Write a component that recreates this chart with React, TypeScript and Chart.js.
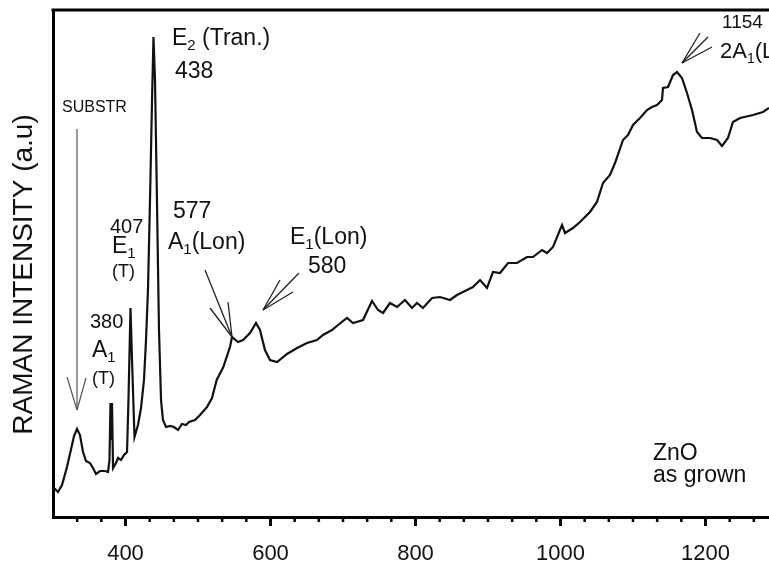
import { useEffect, useRef } from 'react';
import { Chart, registerables } from 'chart.js';

Chart.register(...registerables);

const FONT = '"Liberation Sans", Arial, Helvetica, sans-serif';

// Raman shift (cm-1)
const wavenumbers = [
  300.0, 306.9, 312.4, 319.3, 326.2, 329.0, 333.1, 337.2, 341.4, 345.5,
  351.0, 355.2, 359.3, 364.8, 371.7, 375.9, 377.9, 379.3, 380.4, 381.4,
  382.8, 386.9, 389.7, 393.8, 397.9, 402.1, 404.1, 406.9, 409.0, 412.4,
  417.2, 421.4, 425.5, 428.3, 431.0, 433.8, 436.6, 438.6, 440.7, 443.4,
  446.2, 449.0, 451.7, 455.9, 461.4, 466.9, 472.4, 477.9, 483.4, 487.6,
  495.9, 502.8, 512.4, 519.3, 525.8, 534.9, 544.1, 546.9, 555.2, 562.1,
  571.7, 580.0, 585.5, 592.4, 599.3, 609.0, 622.8, 636.6, 650.3, 664.1,
  672.4, 684.8, 693.1, 705.5, 713.8, 727.6, 740.0, 748.3, 755.2, 764.8,
  774.5, 785.5, 795.2, 802.1, 810.3, 822.8, 833.8, 847.6, 857.2, 871.0,
  879.3, 889.0, 898.6, 906.9, 916.6, 927.6, 940.0, 953.8, 962.1, 974.5,
  981.4, 989.7, 1002.1, 1006.2, 1017.2, 1026.9, 1040.7, 1050.3, 1058.6, 1068.3,
  1075.2, 1086.2, 1093.1, 1100.0, 1109.7, 1119.3, 1126.2, 1133.1, 1140.0, 1141.4,
  1148.3, 1155.2, 1160.7, 1167.6, 1174.5, 1181.4, 1188.3, 1195.2, 1206.2, 1215.9,
  1222.8, 1231.0, 1237.9, 1247.6, 1265.5, 1279.3, 1287.6,
];

// Raman intensity (a.u.)
const intensity = [
  30, 25, 32, 50, 72, 81, 88, 82, 65, 56,
  54, 49, 43, 46, 46, 45, 57, 114, 77, 114,
  49, 54, 59, 57, 62, 65, 117, 209, 157, 80,
  92, 109, 137, 177, 227, 317, 417, 480, 437, 317,
  187, 117, 97, 90, 91, 90, 87, 93, 92, 95,
  97, 102, 110, 119, 137, 150, 170, 180, 175, 177,
  184, 194, 187, 167, 157, 155, 163, 169, 174, 177,
  182, 187, 192, 199, 194, 197, 216, 207, 204, 214,
  210, 217, 209, 214, 209, 219, 220, 217, 222, 227,
  230, 237, 229, 245, 244, 254, 254, 260, 260, 267,
  264, 270, 292, 284, 289, 295, 305, 315, 334, 342,
  354, 377, 382, 392, 399, 407, 410, 412, 417, 429,
  430, 442, 445, 439, 424, 407, 385, 379, 379, 377,
  371, 379, 395, 399, 402, 405, 409,
];

const xMin = 300;
const xMax = 1287.6;
const yMin = 0;
const yMax = 507;
const majorTicks = [400, 600, 800, 1000, 1200];
const minorStep = 100 / 3;
const yTitle = 'RAMAN INTENSITY (a.u)';

// Annotation texts: anchor in data units (left, baseline); parts = [text, fontSize, dy]
type Part = [string, number, number];
const annotationTexts: { x: number; y: number; parts: Part[] }[] = [
  { x: 312.4, y: 405, parts: [['SUBSTR', 16, 0]] },
  { x: 464.1, y: 472, parts: [['E', 23, 0], ['2', 15, 5], [' (Tran.)', 23, 0]] },
  { x: 468.3, y: 439, parts: [['438', 23, 0]] },
  { x: 465.5, y: 299, parts: [['577', 23, 0]] },
  { x: 458.6, y: 268, parts: [['A', 23, 0], ['1', 15, 5], ['(Lon)', 23, 0]] },
  { x: 626.9, y: 273, parts: [['E', 23, 0], ['1', 15, 5], ['(Lon)', 23, 0]] },
  { x: 651.7, y: 244, parts: [['580', 23, 0]] },
  { x: 378.6, y: 284, parts: [['407', 20, 0]] },
  { x: 381.4, y: 264, parts: [['E', 23, 0], ['1', 15, 5]] },
  { x: 381.4, y: 240, parts: [['(T)', 18, 0]] },
  { x: 351.0, y: 189, parts: [['380', 20, 0]] },
  { x: 353.8, y: 160, parts: [['A', 23, 0], ['1', 15, 5]] },
  { x: 353.8, y: 133, parts: [['(T)', 18, 0]] },
  { x: 1222.8, y: 489, parts: [['1154', 19, 0]] },
  { x: 1220.0, y: 459, parts: [['2A', 22, 0], ['1', 14, 5], ['(LO)', 22, 0]] },
  { x: 1127.6, y: 57, parts: [['ZnO', 23, 0]] },
  { x: 1127.6, y: 35, parts: [['as grown', 23, 0]] },
];

// Arrows: tip, tail, and two head-line ends, in data units [x, y]
const arrows: { tip: number[]; tail: number[]; h1: number[]; h2: number[]; w: number; c: string }[] = [
  { tip: [333.1, 107], tail: [333.1, 388], h1: [319.3, 140], h2: [345.5, 139], w: 1.2, c: '#555' },
  { tip: [546.9, 180], tail: [509.7, 247], h1: [516.6, 209], h2: [541.4, 215], w: 1.3, c: '#222' },
  { tip: [589.7, 207], tail: [639.3, 244], h1: [613.1, 237], h2: [631.0, 225], w: 1.3, c: '#222' },
  { tip: [1167.6, 454], tail: [1203.4, 480], h1: [1192.4, 484], h2: [1209.0, 470], w: 1.3, c: '#222' },
];

const decorPlugin = {
  id: 'decor',
  afterDraw(chart: any) {
    const { ctx, chartArea, scales } = chart;
    const xs = scales.x;
    const ys = scales.y;
    ctx.save();
    // top frame line
    ctx.strokeStyle = '#000';
    ctx.lineWidth = 3;
    ctx.beginPath();
    ctx.moveTo(chartArea.left - 1.5, chartArea.top);
    ctx.lineTo(chartArea.right, chartArea.top);
    ctx.stroke();
    // minor ticks
    ctx.lineWidth = 2.5;
    for (let k = 1; xMin + k * minorStep <= xMax; k++) {
      const v = xMin + k * minorStep;
      if (majorTicks.some((m) => Math.abs(m - v) < 1e-6)) continue;
      const px = xs.getPixelForValue(v);
      ctx.beginPath();
      ctx.moveTo(px, chartArea.bottom);
      ctx.lineTo(px, chartArea.bottom + 5);
      ctx.stroke();
    }
    // y title
    ctx.fillStyle = '#111';
    ctx.font = `28px ${FONT}`;
    ctx.textAlign = 'center';
    ctx.textBaseline = 'middle';
    ctx.translate(chartArea.left - 29, (chartArea.top + chartArea.bottom) / 2 + 11);
    ctx.rotate(-Math.PI / 2);
    ctx.fillText(yTitle, 0, 0);
    ctx.restore();

    ctx.save();
    // arrows
    for (const a of arrows) {
      const tx = xs.getPixelForValue(a.tip[0]);
      const ty = ys.getPixelForValue(a.tip[1]);
      ctx.strokeStyle = a.c;
      ctx.lineWidth = a.w;
      for (const p of [a.tail, a.h1, a.h2]) {
        ctx.beginPath();
        ctx.moveTo(xs.getPixelForValue(p[0]), ys.getPixelForValue(p[1]));
        ctx.lineTo(tx, ty);
        ctx.stroke();
      }
    }
    // texts
    ctx.fillStyle = '#111';
    ctx.textAlign = 'left';
    ctx.textBaseline = 'alphabetic';
    for (const t of annotationTexts) {
      let cx = xs.getPixelForValue(t.x);
      const by = ys.getPixelForValue(t.y);
      for (const [s, size, dy] of t.parts) {
        ctx.font = `${size}px ${FONT}`;
        ctx.fillText(s, cx, by + dy);
        cx += ctx.measureText(s).width;
      }
    }
    ctx.restore();
  },
};

export default function App() {
  const ref = useRef<HTMLCanvasElement | null>(null);
  useEffect(() => {
    document.body.style.margin = '0';
    const canvas = ref.current;
    if (!canvas) return;
    const chart = new Chart(canvas, {
      type: 'line',
      data: {
        datasets: [
          {
            data: wavenumbers.map((w, i) => ({ x: w, y: intensity[i] })),
            borderColor: '#111',
            borderWidth: 2.2,
            pointRadius: 0,
            tension: 0,
            fill: false,
          },
        ],
      },
      options: {
        animation: false,
        responsive: false,
        devicePixelRatio: 1,
        layout: { padding: { top: 10, left: 0, right: 0, bottom: 0 } },
        plugins: { legend: { display: false }, tooltip: { enabled: false } },
        scales: {
          x: {
            type: 'linear',
            min: xMin,
            max: xMax,
            afterBuildTicks: (scale: any) => {
              scale.ticks = majorTicks.map((v) => ({ value: v }));
            },
            afterFit: (scale: any) => {
              scale.height = 50;
            },
            ticks: {
              autoSkip: false,
              maxRotation: 0,
              padding: 15,
              color: '#111',
              font: { size: 22, family: FONT },
              callback: (v: any) => String(v),
            },
            grid: {
              drawOnChartArea: false,
              drawTicks: true,
              tickLength: 9,
              tickWidth: 3,
              tickColor: '#000',
            },
            border: { display: true, width: 3, color: '#000' },
          },
          y: {
            type: 'linear',
            min: yMin,
            max: yMax,
            afterFit: (scale: any) => {
              scale.width = 53;
            },
            ticks: { display: false },
            grid: { display: false },
            border: { display: true, width: 3, color: '#000' },
          },
        },
      },
      plugins: [decorPlugin],
    });
    return () => chart.destroy();
  }, []);
  return <canvas ref={ref} width={769} height={567} style={{ display: 'block' }} />;
}
